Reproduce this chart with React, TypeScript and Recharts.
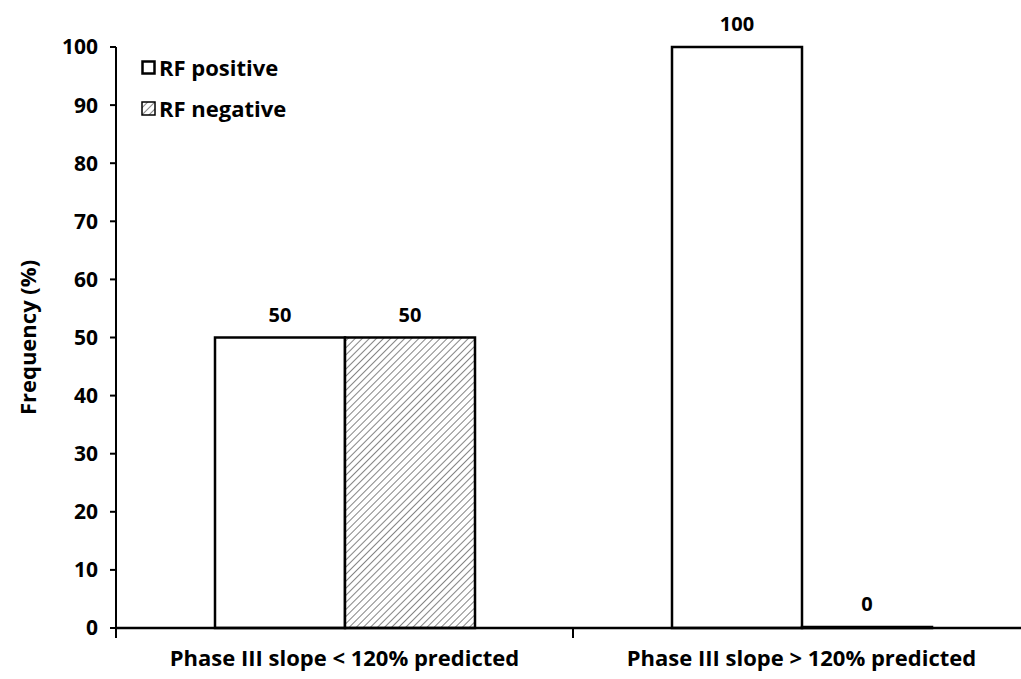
import React from 'react';
import { BarChart, Bar, XAxis, YAxis, LabelList } from 'recharts';

const categories = ['Phase III slope < 120% predicted', 'Phase III slope > 120% predicted'];
const rfPositive = [50, 100];
const rfNegative = [50, 0];
const yTicks = [0, 10, 20, 30, 40, 50, 60, 70, 80, 90, 100];

const data = categories.map((name, i) => ({
  name,
  pos: rfPositive[i],
  neg: rfNegative[i],
}));

const FONT = '"Open Sans", sans-serif';
const PLOT_LEFT = 116;
const PLOT_RIGHT = 1030;
const BAND = (PLOT_RIGHT - PLOT_LEFT) / categories.length;

const XTick = (props: any) => {
  const { x, y, payload } = props;
  const left = x - BAND / 2;
  return (
    <g>
      <line x1={left} y1={y - 8} x2={left} y2={y + 2} stroke="#000" strokeWidth={2} />
      <text x={x} y={y + 30} textAnchor="middle" fontFamily={FONT} fontWeight={700} fontSize={22} fill="#000">
        {payload.value}
      </text>
    </g>
  );
};

const ValueLabel = (props: any) => {
  const { x, y, width, height, value } = props;
  const top = Math.min(y, y + (height || 0));
  return (
    <text x={x + width / 2} y={top - 16} textAnchor="middle" fontFamily={FONT} fontWeight={700} fontSize={20} fill="#000">
      {value}
    </text>
  );
};

const LegendBox = () => (
  <div
    style={{
      position: 'absolute',
      left: 141,
      top: 52,
      fontFamily: FONT,
      fontWeight: 700,
      fontSize: 22,
      color: '#000',
      lineHeight: '30px',
    }}
  >
    <div style={{ display: 'flex', alignItems: 'center', height: 30 }}>
      <svg width={15} height={15} style={{ marginRight: 3 }}>
        <rect x={1.5} y={1.5} width={12} height={12} fill="#fff" stroke="#000" strokeWidth={2.5} />
      </svg>
      RF positive
    </div>
    <div style={{ display: 'flex', alignItems: 'center', height: 30, marginTop: 11 }}>
      <svg width={15} height={15} style={{ marginRight: 3 }}>
        <rect x={1} y={1} width={13} height={13} fill="url(#hatch)" stroke="#000" strokeWidth={1.5} />
      </svg>
      RF negative
    </div>
  </div>
);

export default function App() {
  return (
    <div style={{ position: 'fixed', left: 0, top: 0, width: 1021, height: 679, overflow: 'hidden', background: '#fff' }}>
      <svg width={0} height={0} style={{ position: 'absolute' }}>
        <defs>
          <pattern id="hatch" width={5} height={5} patternUnits="userSpaceOnUse" patternTransform="rotate(45)">
            <rect width={5} height={5} fill="#fff" />
            <line x1={0} y1={0} x2={0} y2={5} stroke="#333" strokeWidth={1.2} />
          </pattern>
        </defs>
      </svg>
      <BarChart
        width={1040}
        height={679}
        data={data}
        margin={{ top: 47, right: 10, bottom: 0, left: 0 }}
        barGap={0}
      >
        <XAxis
          dataKey="name"
          height={51}
          tickLine={false}
          axisLine={{ stroke: '#000', strokeWidth: 2.5 }}
          tick={<XTick />}
          interval={0}
        />
        <YAxis
          width={116}
          domain={[0, 100]}
          ticks={yTicks}
          interval={0}
          tickSize={6}
          tickMargin={12}
          axisLine={{ stroke: '#000', strokeWidth: 2 }}
          tickLine={{ stroke: '#000', strokeWidth: 2 }}
          tick={{ fontFamily: FONT, fontWeight: 700, fontSize: 21, fill: '#000' }}
          label={{
            content: (p: any) => {
              const vb = p.viewBox;
              const cx = 27;
              const cy = vb.y + vb.height / 2;
              return (
                <text
                  transform={`translate(${cx},${cy}) rotate(-90)`}
                  textAnchor="middle"
                  dominantBaseline="central"
                  fontFamily={FONT}
                  fontWeight={700}
                  fontSize={22}
                  fill="#000"
                >
                  Frequency (%)
                </text>
              );
            },
          }}
        />
        <Bar dataKey="pos" name="RF positive" fill="#fff" stroke="#000" strokeWidth={2.5} barSize={130} isAnimationActive={false}>
          <LabelList dataKey="pos" content={<ValueLabel />} />
        </Bar>
        <Bar
          dataKey="neg"
          name="RF negative"
          fill="url(#hatch)"
          stroke="#000"
          strokeWidth={2.5}
          barSize={130}
          minPointSize={1}
          isAnimationActive={false}
        >
          <LabelList dataKey="neg" content={<ValueLabel />} />
        </Bar>
      </BarChart>
      <LegendBox />
    </div>
  );
}
